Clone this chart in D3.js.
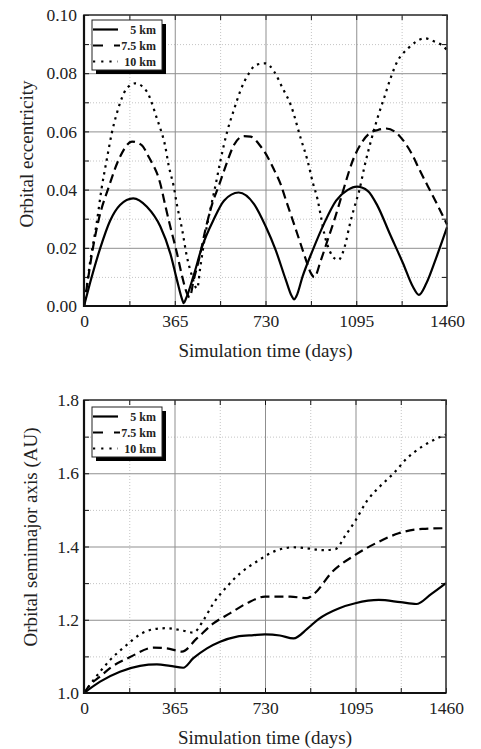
<!DOCTYPE html>
<html>
<head>
<meta charset="utf-8">
<script src="https://cdn.jsdelivr.net/npm/d3@7"></script>
<style>
  body { margin: 0; background: #fff; }
  text { font-family: "Liberation Serif", "Times New Roman", serif; fill: #222; }
  .tick-label text { font-size: 17.5px; }
  .axis-title { font-size: 19px; }
  .legend-label { font-size: 12px; font-weight: bold; }
  .grid-major line { stroke: #8f8f8f; stroke-width: 1; }
  .grid-minor line { stroke: #c4c4c4; stroke-width: 1; stroke-dasharray: 1,2; }
  .ticks line { stroke: #111; stroke-width: 1; }
  .domain { display: none; }
  .line-path { fill: none; stroke: #000; stroke-width: 2.2; }
</style>
</head>
<body>
<svg width="481" height="749"></svg>
<script>
// days on x, shared by both panels
const xTicks = [0, 365, 730, 1095, 1460];
const xMinor = [182.5, 547.5, 912.5, 1277.5];

const eccTicks = [0, 0.02, 0.04, 0.06, 0.08, 0.10];
const eccMinor = [0.01, 0.03, 0.05, 0.07, 0.09];
const smaTicks = [1.0, 1.2, 1.4, 1.6, 1.8];
const smaMinor = [1.1, 1.3, 1.5, 1.7];

const seriesNames = ['5 km', '7.5 km', '10 km'];

// orbital eccentricity, [day, value]
const ecc5km = [[0,0],[24,0.0078],[65,0.0198],[105,0.0293],[145,0.0347],[198,0.037],[253,0.0341],[307,0.0273],
  [347,0.0181],[374,0.0089],[395,0.0022],[401,0.001],[410,0.0025],[441,0.0105],[475,0.0204],[522,0.0298],
  [563,0.0362],[622,0.039],[684,0.035],[731,0.0273],[771,0.0192],[812,0.0089],[835,0.0035],[845,0.0023],
  [855,0.0035],[879,0.0101],[920,0.0192],[966,0.0284],[1014,0.0362],[1061,0.0399],[1098,0.041],[1142,0.0395],
  [1180,0.0345],[1229,0.025],[1283,0.0147],[1323,0.0066],[1347,0.0038],[1377,0.0078],[1418,0.0169],[1460,0.027]];

const ecc75km = [[0,0],[15,0.0085],[32,0.018],[60,0.030],[98,0.0405],[145,0.0513],[193,0.0565],[232,0.0553],
  [260,0.0513],[307,0.042],[327,0.0345],[347,0.0273],[374,0.0181],[395,0.0101],[414,0.0044],[425,0.003],
  [441,0.0089],[462,0.0158],[489,0.0265],[516,0.0352],[543,0.0415],[569,0.0479],[603,0.0553],[643,0.0584],
  [670,0.0582],[711,0.0548],[738,0.0513],[765,0.0467],[792,0.0416],[812,0.0364],[839,0.0296],[866,0.0227],
  [893,0.0158],[913,0.0112],[926,0.0099],[953,0.0158],[980,0.0227],[1007,0.0296],[1027,0.0352],[1047,0.041],
  [1081,0.050],[1115,0.0559],[1148,0.0593],[1182,0.0605],[1216,0.061],[1249,0.060],[1283,0.057],[1317,0.0525],
  [1350,0.0467],[1384,0.041],[1420,0.035],[1460,0.028]];

const ecc10km = [[0,0],[10,0.006],[24,0.0148],[51,0.0285],[71,0.0405],[92,0.0505],[112,0.0595],[132,0.0662],
  [152,0.0714],[172,0.0748],[206,0.0765],[253,0.0737],[273,0.0697],[293,0.0645],[307,0.061],[327,0.0548],
  [340,0.0485],[361,0.041],[374,0.0347],[395,0.0261],[414,0.0169],[435,0.0101],[448,0.0066],[455,0.006],
  [468,0.0135],[489,0.025],[509,0.0335],[529,0.0415],[549,0.050],[576,0.060],[603,0.0674],[630,0.0742],
  [664,0.080],[690,0.0828],[731,0.0834],[765,0.0805],[798,0.075],[832,0.069],[872,0.0575],[899,0.050],
  [920,0.0425],[940,0.0364],[953,0.0307],[966,0.025],[987,0.0192],[1007,0.0164],[1024,0.0158],[1040,0.0181],
  [1054,0.0222],[1067,0.0273],[1088,0.0341],[1108,0.040],[1128,0.0479],[1155,0.057],[1182,0.065],[1209,0.072],
  [1236,0.079],[1263,0.0845],[1283,0.0868],[1303,0.0885],[1330,0.0905],[1370,0.092],[1411,0.0908],
  [1438,0.0897],[1460,0.088]];

// orbital semimajor axis (AU), [day, value]
const sma5km = [[0,1.0],[65,1.031],[145,1.058],[226,1.074],[294,1.078],[347,1.074],[400,1.069],[441,1.095],
  [496,1.122],[549,1.140],[617,1.154],[684,1.158],[730,1.160],[790,1.157],[845,1.149],[900,1.175],[946,1.202],
  [1027,1.231],[1094,1.245],[1189,1.254],[1276,1.248],[1340,1.243],[1400,1.27],[1460,1.30]];

const sma75km = [[0,1.0],[24,1.022],[65,1.045],[105,1.068],[186,1.098],[280,1.124],[334,1.122],[395,1.113],
  [455,1.149],[522,1.19],[590,1.218],[657,1.245],[730,1.263],[832,1.263],[900,1.259],[930,1.272],[1000,1.33],
  [1094,1.377],[1189,1.413],[1269,1.436],[1364,1.448],[1460,1.450]];

const sma10km = [[0,1.0],[38,1.035],[105,1.09],[172,1.131],[226,1.16],[280,1.174],[334,1.177],[401,1.170],
  [441,1.165],[482,1.199],[522,1.245],[576,1.29],[630,1.327],[697,1.359],[765,1.386],[845,1.398],[899,1.395],
  [966,1.39],[1014,1.393],[1054,1.43],[1094,1.47],[1142,1.525],[1195,1.565],[1249,1.600],[1303,1.641],
  [1364,1.673],[1411,1.691],[1460,1.706]];

const svg = d3.select('svg');
const dashes = [null, '9,5', '2.4,4.6'];

const render = opt => {
  const xScale = d3.scaleLinear().domain([0, 1460]).range([opt.left, opt.right]);
  const yScale = d3.scaleLinear().domain(opt.yDomain).range([opt.bottom, opt.top]);
  const innerW = opt.right - opt.left;
  const innerH = opt.bottom - opt.top;
  const g = svg.append('g');

  // grids
  g.append('g').attr('class', 'grid-minor').attr('transform', `translate(0,${opt.bottom})`)
    .call(d3.axisBottom(xScale).tickValues(xMinor).tickSize(-innerH).tickFormat(''));
  g.append('g').attr('class', 'grid-minor').attr('transform', `translate(${opt.left},0)`)
    .call(d3.axisLeft(yScale).tickValues(opt.yMinor).tickSize(-innerW).tickFormat(''));
  g.append('g').attr('class', 'grid-major').attr('transform', `translate(0,${opt.bottom})`)
    .call(d3.axisBottom(xScale).tickValues(xTicks.slice(1, -1)).tickSize(-innerH).tickFormat(''));
  g.append('g').attr('class', 'grid-major').attr('transform', `translate(${opt.left},0)`)
    .call(d3.axisLeft(yScale).tickValues(opt.yTicks.slice(1, -1)).tickSize(-innerW).tickFormat(''));

  // inward ticks on all sides
  const allX = xTicks.concat(xMinor);
  const allY = opt.yTicks.concat(opt.yMinor);
  g.append('g').attr('class', 'ticks').attr('transform', `translate(0,${opt.bottom})`)
    .call(d3.axisBottom(xScale).tickValues(allX).tickSize(-5).tickFormat(''));
  g.append('g').attr('class', 'ticks').attr('transform', `translate(0,${opt.top})`)
    .call(d3.axisTop(xScale).tickValues(allX).tickSize(-5).tickFormat(''));
  g.append('g').attr('class', 'ticks').attr('transform', `translate(${opt.left},0)`)
    .call(d3.axisLeft(yScale).tickValues(allY).tickSize(-5).tickFormat(''));
  g.append('g').attr('class', 'ticks').attr('transform', `translate(${opt.right},0)`)
    .call(d3.axisRight(yScale).tickValues(allY).tickSize(-5).tickFormat(''));

  // lines
  const lineGen = d3.line()
    .x(d => xScale(d[0]))
    .y(d => yScale(d[1]))
    .curve(d3.curveMonotoneX);
  opt.series.forEach((s, i) => {
    g.append('path')
      .attr('class', 'line-path')
      .attr('stroke-dasharray', dashes[i])
      .attr('d', lineGen(s));
  });

  // frame
  g.append('rect')
    .attr('x', opt.left).attr('y', opt.top)
    .attr('width', innerW).attr('height', innerH)
    .attr('fill', 'none').attr('stroke', '#333').attr('stroke-width', 1.6);
  g.append('path')
    .attr('d', `M${opt.left},${opt.top}V${opt.bottom}H${opt.right}`)
    .attr('fill', 'none').attr('stroke', '#111').attr('stroke-width', 2.2);

  // tick labels
  g.append('g').attr('class', 'tick-label').attr('transform', `translate(0,${opt.bottom})`)
    .call(d3.axisBottom(xScale).tickValues(xTicks).tickSize(0).tickPadding(9).tickFormat(d3.format('d')));
  g.append('g').attr('class', 'tick-label').attr('transform', `translate(${opt.left},0)`)
    .call(d3.axisLeft(yScale).tickValues(opt.yTicks).tickSize(0).tickPadding(opt.yPad)
      .tickFormat(d3.format(opt.yFormat)));

  // axis titles
  g.append('text')
    .attr('class', 'axis-title')
    .attr('x', (opt.left + opt.right) / 2)
    .attr('y', opt.bottom + 51)
    .attr('text-anchor', 'middle')
    .text('Simulation time (days)');
  g.append('text')
    .attr('class', 'axis-title')
    .attr('transform', `translate(${opt.yTitleX},${opt.yTitleY}) rotate(-90)`)
    .attr('text-anchor', 'middle')
    .text(opt.yTitle);

  // legend
  const lg = g.append('g').attr('transform', `translate(${opt.left + 8},${opt.top + opt.legendDy})`);
  lg.append('rect').attr('x', 4).attr('y', 4).attr('width', 70).attr('height', 50).attr('fill', '#000');
  lg.append('rect').attr('x', 0).attr('y', 0).attr('width', 70).attr('height', 50)
    .attr('fill', '#fff').attr('stroke', '#222').attr('stroke-width', 1);
  seriesNames.forEach((name, i) => {
    const ly = 9.5 + i * 16;
    lg.append('line')
      .attr('x1', 1).attr('x2', i === 1 ? 28 : 26)
      .attr('y1', ly).attr('y2', ly)
      .attr('stroke', '#000').attr('stroke-width', 2.2)
      .attr('stroke-dasharray', [null, '10,11', '2.2,6'][i]);
    lg.append('text')
      .attr('class', 'legend-label')
      .attr('x', 64).attr('y', ly + 4)
      .attr('text-anchor', 'end')
      .text(name);
  });
};

render({
  left: 84, right: 447, top: 15, bottom: 306,
  yDomain: [0, 0.10], yTicks: eccTicks, yMinor: eccMinor, yFormat: '.2f', yPad: 7,
  yTitle: 'Orbital eccentricity', yTitleX: 33, yTitleY: 154, legendDy: 5,
  series: [ecc5km, ecc75km, ecc10km]
});

render({
  left: 84, right: 446, top: 400, bottom: 693,
  yDomain: [1.0, 1.8], yTicks: smaTicks, yMinor: smaMinor, yFormat: '.1f', yPad: 5,
  yTitle: 'Orbital semimajor axis (AU)', yTitleX: 37, yTitleY: 537, legendDy: 7,
  series: [sma5km, sma75km, sma10km]
});
</script>
</body>
</html>
